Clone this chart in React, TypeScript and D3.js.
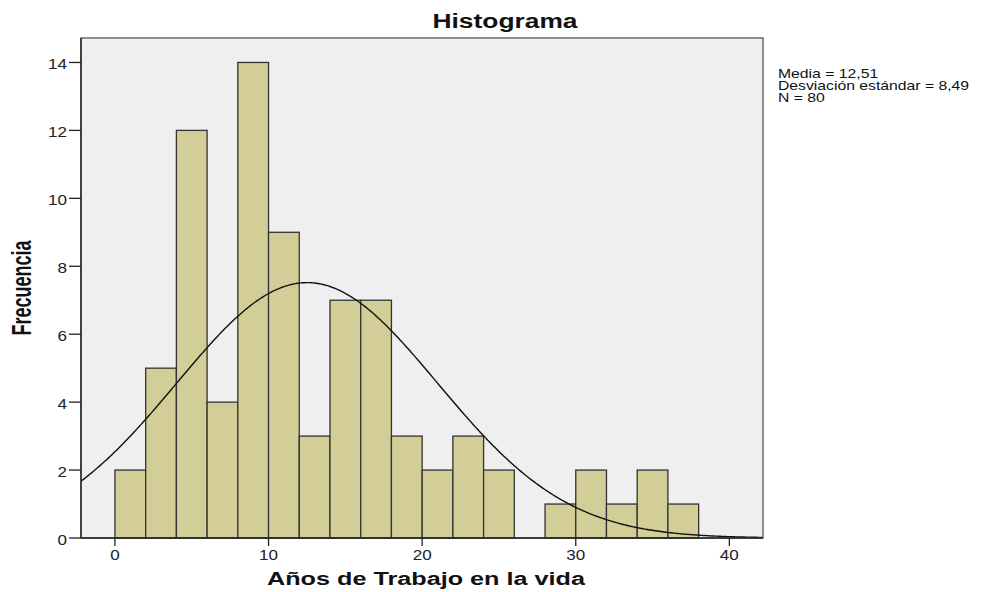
import React from "react";
import * as d3 from "d3";

const binStarts = [0, 2, 4, 6, 8, 10, 12, 14, 16, 18, 20, 22, 24, 26, 28, 30, 32, 34, 36];
const counts = [2, 5, 12, 4, 14, 9, 3, 7, 7, 3, 2, 3, 2, 0, 1, 2, 1, 2, 1];
const binWidth = 2;
const mean = 12.51;
const sd = 8.49;
const n = 80;
const xTicks = [0, 10, 20, 30, 40];
const yTicks = [0, 2, 4, 6, 8, 10, 12, 14];
const statsLines = ["Media = 12,51", "Desviación estándar = 8,49", "N = 80"];

export default function App() {
  const W = 997, H = 592;
  const left = 81, right = 763, top = 38, bottom = 538;
  const x = d3.scaleLinear().domain([-2.21, 42.19]).range([left, right]);
  const y = d3.scaleLinear().domain([0, 14.72]).range([bottom, top]);

  const pdf = (v: number) => (n * binWidth) / (sd * Math.sqrt(2 * Math.PI)) * Math.exp(-0.5 * ((v - mean) / sd) ** 2);
  const xs = d3.range(0, 401).map(i => -2.21 + (44.4 * i) / 400);
  const line = d3.line<number>().x(d => x(d)).y(d => y(pdf(d))).curve(d3.curveLinear);

  const font = "Arial, 'Liberation Sans', sans-serif";
  const sx = 1.22;
  return (
    <svg width={W} height={H} style={{ position: "absolute", left: 0, top: 0, background: "#fff" }}>
      <rect x={left} y={top} width={right - left} height={bottom - top} fill="#EFEFEF" stroke="none" />
      {counts.map((c, i) =>
        c > 0 ? (
          <rect key={i} x={x(binStarts[i])} y={y(c)} width={x(binStarts[i] + binWidth) - x(binStarts[i])} height={y(0) - y(c)}
            fill="#D3CE97" stroke="#333" strokeWidth={1.3} />
        ) : null
      )}
      <defs>
        <clipPath id="clip"><rect x={left} y={top} width={right - left} height={bottom - top} /></clipPath>
      </defs>
      <path d={line(xs) || ""} fill="none" stroke="#111" strokeWidth={1.4} clipPath="url(#clip)" />
      <rect x={left} y={top} width={right - left} height={bottom - top} fill="none" stroke="#555" strokeWidth={1.3} />
      <line x1={left} x2={left} y1={top} y2={bottom} stroke="#222" strokeWidth={1.4} />
      <line x1={left} x2={right} y1={bottom} y2={bottom} stroke="#222" strokeWidth={1.4} />
      {yTicks.map(t => (
        <g key={t}>
          <line x1={left - 12} x2={left} y1={y(t)} y2={y(t)} stroke="#222" strokeWidth={1.3} />
          <g transform={`translate(${left - 14},${y(t) + 6.5}) scale(${sx},1)`}>
            <text x={0} y={0} textAnchor="end" fontSize={14} fontFamily={font} fill="#222">{t}</text>
          </g>
        </g>
      ))}
      {xTicks.map(t => (
        <g key={t}>
          <line x1={x(t)} x2={x(t)} y1={bottom} y2={bottom + 8} stroke="#222" strokeWidth={1.3} />
          <g transform={`translate(${x(t)},${bottom + 22}) scale(${sx},1)`}>
            <text x={0} y={0} textAnchor="middle" fontSize={14} fontFamily={font} fill="#222">{t}</text>
          </g>
        </g>
      ))}
      <text x={505} y={28} textAnchor="middle" fontSize={20} fontWeight="bold" fontFamily={font} fill="#111"
        textLength={145} lengthAdjust="spacingAndGlyphs">Histograma</text>
      <text x={426} y={585} textAnchor="middle" fontSize={18} fontWeight="bold" fontFamily={font} fill="#111"
        textLength={318} lengthAdjust="spacingAndGlyphs">Años de Trabajo en la vida</text>
      <text transform={`translate(31,288) rotate(-90)`} textAnchor="middle" fontSize={27} fontWeight="bold"
        fontFamily="'Liberation Sans Narrow', 'Arial Narrow', Arial, sans-serif" fill="#111"
        textLength={95} lengthAdjust="spacingAndGlyphs">Frecuencia</text>
      <g transform={`translate(778,78) scale(1.26,1)`}>
        <text x={0} y={0} fontSize={12.5} fontFamily={font} fill="#111">
          {statsLines.map((s, i) => (
            <tspan key={i} x={0} dy={i === 0 ? 0 : 12.2}>{s}</tspan>
          ))}
        </text>
      </g>
    </svg>
  );
}
